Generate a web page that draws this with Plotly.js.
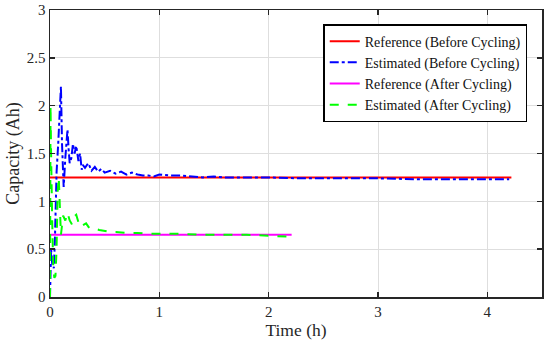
<!DOCTYPE html>
<html>
<head>
<meta charset="utf-8">
<script src="https://cdn.plot.ly/plotly-3.0.1.min.js"></script>
<style>html,body{margin:0;padding:0;background:#fff;}#chart{width:550px;height:344px;}</style>
</head>
<body>
<div id="chart"></div>
<script>
// Reference capacities
const refBeforeT = [0, 4.22];
const refBeforeY = [1.25, 1.25];
const refAfterT = [0, 2.21];
const refAfterY = [0.65, 0.65];

// Estimated (Before Cycling)
const estBeforeT = [0,0.01,0.02,0.035,0.045,0.06,0.075,0.09,0.1,0.11,
  0.125,0.14,0.16,0.17,0.18,0.195,0.21,0.225,0.24,0.26,
  0.275,0.29,0.3,0.32,0.35,0.38,0.41,0.44,0.47,0.5,
  0.55,0.6,0.65,0.7,0.75,0.8,0.85,0.9,0.95,1.0,
  1.1,1.2,1.3,1.4,1.5,1.6,1.8,2.0,2.3,2.6,
  3.0,3.4,3.8,4.2];
const estBeforeY = [0,0.5,0.35,0.3,0.6,1.3,1.6,2.05,2.2,1.6,
  1.15,1.45,1.75,1.55,1.4,1.45,1.6,1.5,1.58,1.42,
  1.5,1.33,1.38,1.35,1.4,1.32,1.36,1.31,1.34,1.3,
  1.32,1.29,1.31,1.28,1.3,1.28,1.27,1.27,1.26,1.28,
  1.27,1.27,1.26,1.25,1.26,1.25,1.25,1.25,1.24,1.24,
  1.24,1.23,1.23,1.23];

// Estimated (After Cycling)
const estAfterT = [0,0.005,0.01,0.02,0.03,0.04,0.05,0.06,0.07,0.08,
  0.09,0.1,0.11,0.12,0.14,0.16,0.18,0.2,0.22,0.24,
  0.26,0.28,0.3,0.33,0.36,0.4,0.45,0.5,0.55,0.6,
  0.7,0.8,0.9,1.0,1.2,1.4,1.6,1.8,2.0,2.2];
const estAfterY = [0,2.0,1.5,0.8,0.3,0.2,0.22,0.5,1.1,1.25,
  0.9,0.65,0.75,0.85,0.8,0.88,0.8,0.76,0.84,0.86,
  0.78,0.8,0.75,0.77,0.72,0.72,0.7,0.69,0.68,0.68,
  0.67,0.67,0.66,0.66,0.66,0.65,0.65,0.65,0.64,0.63];

const xTicks = [0,1,2,3,4];
const yTicks = [0,0.5,1,1.5,2,2.5,3];
const yTickText = ['0','0.5','1','1.5','2','2.5','3'];

const traces = [
  {x: refBeforeT, y: refBeforeY, mode: 'lines', name: 'Reference (Before Cycling)',
   line: {color: '#ff0000', width: 2}},
  {x: estBeforeT, y: estBeforeY, mode: 'lines', name: 'Estimated (Before Cycling)',
   line: {color: '#0000ff', width: 2, dash: 'dashdot'}},
  {x: refAfterT, y: refAfterY, mode: 'lines', name: 'Reference (After Cycling)',
   line: {color: '#ff00ff', width: 2}},
  {x: estAfterT, y: estAfterY, mode: 'lines', name: 'Estimated (After Cycling)',
   line: {color: '#00ff00', width: 2, dash: 'dash'}}
];

const font = '"Liberation Serif", "Times New Roman", "DejaVu Serif", serif';
const layout = {
  width: 550, height: 344,
  margin: {l: 50, r: 8, t: 10, b: 47},
  paper_bgcolor: '#fff', plot_bgcolor: '#fff',
  font: {family: font, size: 15, color: '#262626'},
  showlegend: true,
  legend: {x: 0.97, y: 0.951, xanchor: 'right', yanchor: 'top',
    bgcolor: '#fff', bordercolor: '#000', borderwidth: 1.5,
    font: {family: font, size: 14, color: '#111'}, tracegroupgap: 0},
  xaxis: {range: [0, 4.5], tickvals: xTicks, ticktext: xTicks.map(String),
    tickfont: {family: font, size: 15, color: '#262626'},
    showline: true, linecolor: '#262626', linewidth: 1.5, mirror: 'ticks',
    ticks: 'inside', ticklen: 5, tickwidth: 1.5, tickcolor: '#262626',
    showgrid: true, gridcolor: '#dedede', gridwidth: 1, zeroline: false,
    automargin: false,
    title: {text: 'Time (h)', font: {family: font, size: 17.5}, standoff: 2}},
  yaxis: {range: [0, 3], tickvals: yTicks, ticktext: yTickText,
    tickfont: {family: font, size: 15, color: '#262626'},
    showline: true, linecolor: '#262626', linewidth: 1.5, mirror: 'ticks',
    ticks: 'inside', ticklen: 5, tickwidth: 1.5, tickcolor: '#262626',
    showgrid: true, gridcolor: '#dedede', gridwidth: 1, zeroline: false,
    automargin: false,
    title: {text: 'Capacity (Ah)', font: {family: font, size: 18}, standoff: 2}}
};

Plotly.newPlot('chart', traces, layout, {displayModeBar: false, staticPlot: true});
</script>
</body>
</html>
